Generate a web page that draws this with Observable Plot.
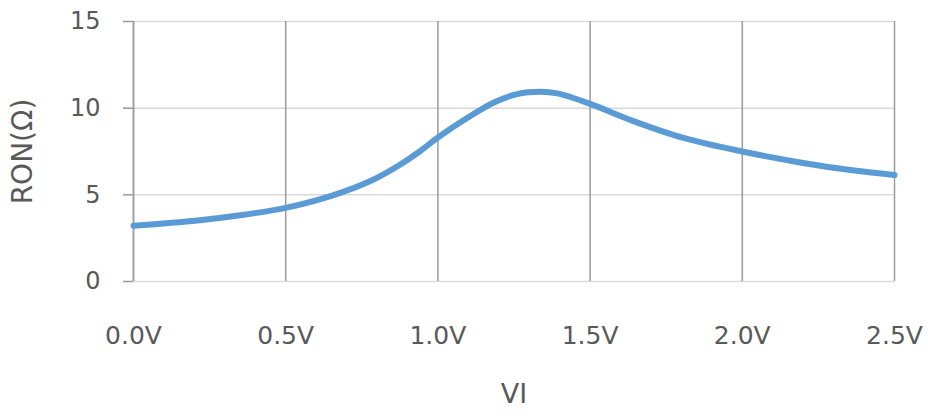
<!DOCTYPE html>
<html>
<head>
<meta charset="utf-8">
<script src="https://cdn.jsdelivr.net/npm/d3@7"></script>
<script src="https://cdn.jsdelivr.net/npm/@observablehq/plot@0.6"></script>
<style>
  html, body { margin: 0; padding: 0; background: #fff; }
  svg { font-family: "DejaVu Sans", sans-serif; }
</style>
</head>
<body>
<div id="chart"></div>
<script>
const vi  = [0.00, 0.21, 0.35, 0.50, 0.65, 0.78, 0.87, 0.94, 1.00, 1.096, 1.184, 1.26, 1.337, 1.392, 1.50, 1.64, 1.81, 2.00, 2.19, 2.355, 2.50];
const ron = [3.22, 3.52, 3.82, 4.25, 4.94, 5.81, 6.68, 7.50, 8.31, 9.43, 10.33, 10.81, 10.94, 10.85, 10.25, 9.27, 8.27, 7.50, 6.87, 6.43, 6.14];
const xTicks = [0, 0.5, 1.0, 1.5, 2.0, 2.5];
const yTicks = [0, 5, 10, 15];
const xTitle = "VI";
const yTitle = "RON(Ω)";

const data = vi.map((v, i) => ({vi: v, ron: ron[i]}));
const textColor = "#595959";

const chart = Plot.plot({
  width: 928,
  height: 416,
  marginLeft: 133,
  marginRight: 34,
  marginTop: 21,
  marginBottom: 135,
  x: {domain: [0, 2.5]},
  y: {domain: [0, 15]},
  marks: [
    Plot.gridY(yTicks, {stroke: "#d9d9d9", strokeOpacity: 1, strokeWidth: 1.5}),
    Plot.gridX(xTicks, {stroke: "#9a9a9a", strokeOpacity: 1, strokeWidth: 1.5}),
    Plot.ruleX([0], {stroke: "#9a9a9a", strokeWidth: 1.5}),
    Plot.axisY(yTicks, {tickSize: 10, tickPadding: 23, fontSize: 24, color: textColor, stroke: "#9a9a9a", strokeWidth: 1.5, label: null}),
    Plot.axisX(xTicks, {tickSize: 0, tickPadding: 45, fontSize: 25, color: textColor, tickFormat: d => d.toFixed(1) + "V", label: null}),
    Plot.line(data, {x: "vi", y: "ron", stroke: "#5B9BD5", strokeWidth: 6, curve: "catmull-rom"}),
    Plot.text([xTitle], {frameAnchor: "bottom", dy: 121, fontSize: 27, fill: textColor}),
    Plot.text([yTitle], {frameAnchor: "left", textAnchor: "middle", dx: -110, rotate: -90, fontSize: 28, fill: textColor})
  ]
});
document.getElementById("chart").appendChild(chart);
</script>
</body>
</html>
